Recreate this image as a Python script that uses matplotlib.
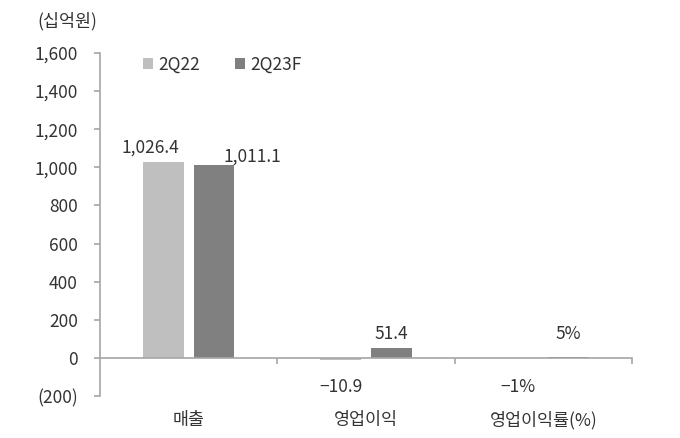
import matplotlib
matplotlib.use("Agg")
import matplotlib.pyplot as plt
import numpy as np
from matplotlib.ticker import FuncFormatter, MultipleLocator
from matplotlib.patches import Patch

plt.rcParams["font.family"] = ["Noto Sans CJK KR", "DejaVu Sans"]
plt.rcParams["font.weight"] = "light"

categories = ["매출", "영업이익", "영업이익률(%)"]
series_names = ["2Q22", "2Q23F"]
values_2q22 = [1026.4, -10.9, -1.0]
values_2q23f = [1011.1, 51.4, 5.0]
labels_2q22 = ["1,026.4", "\u221210.9", "\u22121%"]
labels_2q23f = ["1,011.1", "51.4", "5%"]
unit_label = "(십억원)"

LIGHT = "#BFBFBF"
DARK = "#808080"
AXIS = "#A6A6A6"
TEXT = "#333333"
PX = 0.72  # points per pixel at dpi 100

fig = plt.figure(figsize=(6.8, 4.38), dpi=100, facecolor="white")
ax = fig.add_axes([100 / 680, 1 - 396 / 438, 532 / 680, 343 / 438])

x = np.arange(len(categories))
width = 0.23
offset = 0.143
bars1 = ax.bar(x - offset, values_2q22, width, color=LIGHT, zorder=2)
bars2 = ax.bar(x + offset, values_2q23f, width, color=DARK, zorder=2)

ax.set_xlim(-0.5, 2.5)
ax.set_ylim(-200, 1600)
ax.yaxis.set_major_locator(MultipleLocator(200))
ax.yaxis.set_major_formatter(FuncFormatter(lambda v, _: f"({abs(v):,.0f})" if v < 0 else f"{v:,.0f}"))

for side in ("top", "right"):
    ax.spines[side].set_visible(False)
ax.spines["left"].set_color(AXIS)
ax.spines["left"].set_linewidth(1.2)
ax.spines["bottom"].set_position(("data", 0))
ax.spines["bottom"].set_color(AXIS)
ax.spines["bottom"].set_linewidth(1.2)
ax.spines["bottom"].set_zorder(3)

ax.set_xticks([0.5, 1.5, 2.5])
ax.set_xticklabels([])
ax.tick_params(axis="x", direction="out", length=4, color=AXIS, width=1.2)
ax.tick_params(axis="y", direction="out", length=4, color=AXIS, width=1.2,
               pad=12, labelsize=12.5, labelcolor=TEXT)

for i, name in enumerate(categories):
    ax.annotate(name, (x[i], 0), xycoords=("data", "axes fraction"),
                xytext=(0, -24 * PX), textcoords="offset points",
                ha="center", va="center", fontsize=12.5, color=TEXT)

# value labels with the nudges seen in the source
label_offsets_1 = [(-13, 6, "bottom"), (0, -20, "top"), (0, -20, "top")]
label_offsets_2 = [(38, 0, "bottom"), (0, 5, "bottom"), (0, 14, "bottom")]
for bars, texts, offs in ((bars1, labels_2q22, label_offsets_1), (bars2, labels_2q23f, label_offsets_2)):
    for bar, t, (dx, dy, va) in zip(bars, texts, offs):
        h = bar.get_height()
        ax.annotate(t, (bar.get_x() + bar.get_width() / 2, max(h, 0)),
                    xytext=(dx * PX, dy * PX), textcoords="offset points",
                    ha="center", va=va, fontsize=12.5, color=TEXT)

fig.text(97 / 680, 1 - 21 / 438, unit_label, ha="right", va="center", fontsize=12.5, color=TEXT)

handles = [Patch(facecolor=LIGHT, edgecolor="none"), Patch(facecolor=DARK, edgecolor="none")]
ax.legend(handles, series_names, loc="upper left", bbox_to_anchor=(27 / 532, 1 + 13 / 343),
          ncol=2, frameon=False, fontsize=12.5, handlelength=0.6, handleheight=0.6,
          handletextpad=0.3, columnspacing=2.0, labelcolor=TEXT)

fig.savefig("out.png", dpi=100, facecolor="white")
